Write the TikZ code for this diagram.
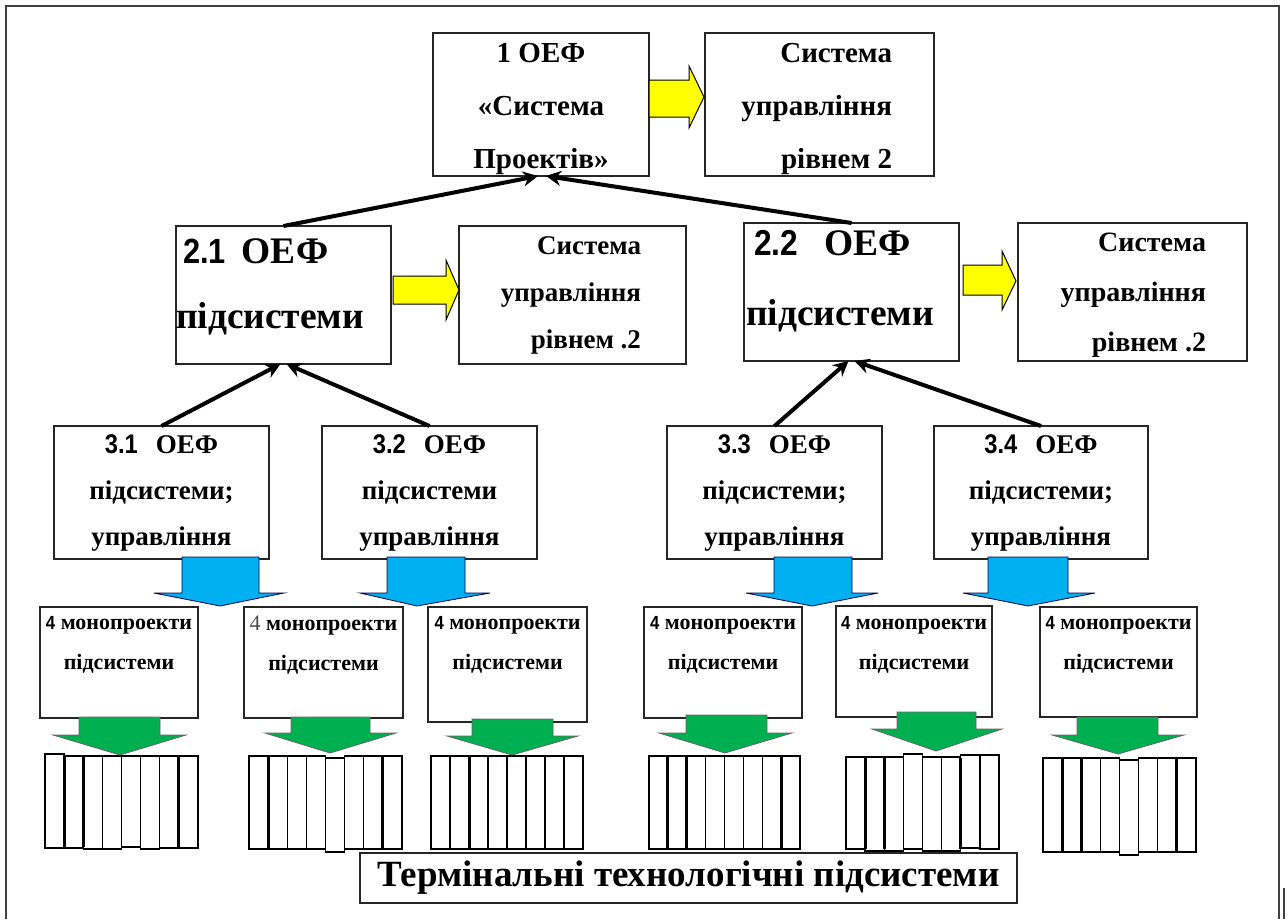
\documentclass[tikz,border=0pt]{standalone}
\usepackage{fontspec}
\setmainfont{Liberation Serif}
\newfontfamily\numf[FakeStretch=0.88]{Liberation Sans}
\usetikzlibrary{arrows.meta}
\definecolor{yel}{RGB}{255,255,0}
\definecolor{blu}{RGB}{0,176,240}
\definecolor{grn}{RGB}{0,176,80}
\tikzset{
 bx/.style={draw=black!85, line width=1.5pt, fill=white, inner sep=0pt, outer sep=0pt, anchor=north west},
 txt/.style={inner sep=0pt, outer sep=0pt},
 link/.style={line width=4pt, -{Stealth[length=15pt,width=15pt]}},
 yarrow/.style={fill=yel, draw=black, line width=1pt, line join=miter},
 barrow/.style={fill=blu, draw=blue!30!black, line width=0.8pt},
 garrow/.style={fill=grn, draw=black!60, line width=0.8pt},
 bar/.style={draw=black, line width=1.3pt, fill=white},
 thk/.style={line width=3pt},
 fb1/.style={font=\bfseries\fontsize{29}{53}\selectfont},
 fsysa/.style={font=\bfseries\fontsize{29}{53}\selectfont},
 fsysb/.style={font=\bfseries\fontsize{27}{47}\selectfont},
 fsysc/.style={font=\bfseries\fontsize{28}{50}\selectfont},
 fb21/.style={font=\bfseries\fontsize{37.5}{65.5}\selectfont},
 fb22/.style={font=\bfseries\fontsize{37.5}{70.5}\selectfont},
 fb3/.style={font=\bfseries\fontsize{27}{46}\selectfont},
 fmono/.style={font=\bfseries\fontsize{22}{40}\selectfont},
 fterm/.style={font=\bfseries\fontsize{37}{40}\selectfont},
}
\newcommand{\numtxt}[2]{{\numf\bfseries\fontsize{#1}{#1}\selectfont #2}}
\begin{document}
\begin{tikzpicture}[x=1pt,y=-1pt]
\useasboundingbox (0,0) rectangle (1288,919);
% outer frame
\draw[line width=2pt, black!75] (6,919) -- (6,6) -- (1279,6) -- (1279,919);
\draw[line width=1.5pt, black!75] (1284,888) -- (1284,919);

% level 1
\node[bx, minimum width=216pt, minimum height=143pt] (b1) at (433,33) {};
\node[txt, align=center, fb1] (tb1) at ([yshift=-4pt]b1.center) {1 ОЕФ\\«Система\\Проектів»};
\node[bx, minimum width=229pt, minimum height=143pt] (c1) at (705,33) {};
\node[txt, anchor=east, align=right, fsysa] (tc1) at ([xshift=-42pt,yshift=-4pt]c1.east) {Система\\управління\\рівнем 2};

% level 2
\node[bx, minimum width=215pt, minimum height=138pt] (b21) at (176,226) {};
\node[txt, anchor=west, align=left, fb21] (tb21) at ([xshift=0pt,yshift=8pt]b21.west) {\hspace*{7pt}\numtxt{35}{2.1}\hspace{16pt}ОЕФ\\підсистеми};
\node[bx, minimum width=227pt, minimum height=138pt] (c21) at (459,226) {};
\node[txt, anchor=east, align=right, fsysb] (tc21) at ([xshift=-45pt]c21.east) {Система\\управління\\рівнем .2};

\node[bx, minimum width=215pt, minimum height=138pt] (b22) at (744,223) {};
\node[txt, anchor=west, align=left, fb22] (tb22) at ([xshift=2pt,yshift=11pt]b22.west) {\hspace*{8pt}\numtxt{36}{2.2}\hspace{26pt}ОЕФ\\підсистеми};
\node[bx, minimum width=229pt, minimum height=138pt] (c22) at (1018,223) {};
\node[txt, anchor=east, align=right, fsysc] (tc22) at ([xshift=-41pt,yshift=-3.5pt]c22.east) {Система\\управління\\рівнем .2};

% level 3
\node[bx, minimum width=215pt, minimum height=133pt, align=center, fb3] (b31) at (54,426) {\numtxt{27}{3.1}\hspace{18pt}ОЕФ\\підсистеми;\\управління};
\node[bx, minimum width=215pt, minimum height=133pt, align=center, fb3] (b32) at (322,426) {\numtxt{27}{3.2}\hspace{18pt}ОЕФ\\підсистеми\\управління};
\node[bx, minimum width=215pt, minimum height=133pt, align=center, fb3] (b33) at (667,426) {\numtxt{27}{3.3}\hspace{18pt}ОЕФ\\підсистеми;\\управління};
\node[bx, minimum width=214pt, minimum height=133pt, align=center, fb3] (b34) at (934,426) {\numtxt{27}{3.4}\hspace{18pt}ОЕФ\\підсистеми;\\управління};

% connectors
\draw[link] (b21.north) -- ([xshift=-3pt]b1.south);
\draw[link] (b22.north) -- ([xshift=5pt]b1.south);
\draw[link] (b31.north) -- ([xshift=-3pt]b21.south);
\draw[link] (b32.north) -- ([xshift=3pt]b21.south);
\draw[link] (b33.north) -- ([xshift=-3pt]b22.south);
\draw[link] (b34.north) -- ([xshift=3pt]b22.south);

% yellow block arrows
\draw[yarrow] (649,80) -- (689,80) -- (689,66) -- (704,97) -- (689,128) -- (689,117) -- (649,117) -- cycle;
\draw[yarrow] (393,276) -- (446,276) -- (446,260) -- (459,290) -- (446,320) -- (446,304) -- (393,304) -- cycle;
\draw[yarrow] (963,265) -- (1002,265) -- (1002,251) -- (1016,281) -- (1002,310) -- (1002,295) -- (963,295) -- cycle;

% level 4 boxes
\node[bx, minimum width=158pt, minimum height=111pt] (m1) at (40,607) {};
\node[bx, minimum width=159pt, minimum height=111pt] (m2) at (244,607) {};
\node[bx, minimum width=159pt, minimum height=115pt] (m3) at (428,607) {};
\node[bx, minimum width=158pt, minimum height=111pt] (m4) at (644,607) {};
\node[bx, minimum width=156pt, minimum height=111pt] (m5) at (836,606) {};
\node[bx, minimum width=157pt, minimum height=110pt] (m6) at (1040,607) {};
\node[txt, anchor=north, align=center, fmono] (tm1) at ([yshift=-9pt]m1.north) {\numtxt{19}{4} монопроекти\\підсистеми};
\node[txt, anchor=north, align=center, fmono] (tm2) at ([yshift=-9pt]m2.north) {{\mdseries\color{black!70}4} монопроекти\\підсистеми};
\node[txt, anchor=north, align=center, fmono] (tm3) at ([yshift=-9pt]m3.north) {\numtxt{19}{4} монопроекти\\підсистеми};
\node[txt, anchor=north, align=center, fmono] (tm4) at ([yshift=-9pt]m4.north) {\numtxt{19}{4} монопроекти\\підсистеми};
\node[txt, anchor=north, align=center, fmono] (tm5) at ([yshift=-10pt]m5.north) {\numtxt{19}{4} монопроекти\\підсистеми};
\node[txt, anchor=north, align=center, fmono] (tm6) at ([yshift=-9pt]m6.north) {\numtxt{19}{4} монопроекти\\підсистеми};

% blue block arrows
\draw[barrow] (182,557) -- (182,593) -- (154,593) -- (220,606) -- (284,593) -- (259,593) -- (259,557) -- cycle;
\draw[barrow] (387,557) -- (387,593) -- (360,593) -- (417,606) -- (490,593) -- (465,593) -- (465,557) -- cycle;
\draw[barrow] (774,557) -- (774,593) -- (746,593) -- (812,606) -- (878,593) -- (852,593) -- (852,557) -- cycle;
\draw[barrow] (988,557) -- (988,593) -- (963,593) -- (1028,606) -- (1095,593) -- (1068,593) -- (1068,557) -- cycle;

% terminal bars
\foreach \X/\R/\T/\B/\var/\thick in {
 45/198/756/848/{0/-2/0,1/0/0,2/0/1,3/0/1,4/0/-1,5/0/1,6/0/0,7/0/0}/{1,2,7},
 249/402/756/849/{0/0/0,1/0/0,2/0/0,3/0/0,4/2/3,5/0/0,6/0/0,7/0/0}/{1,7},
 431/583/756/849/{0/0/0,1/0/0,2/0/0,3/0/0,4/0/0,5/0/0,6/0/0,7/0/0}/{2},
 649/800/756/849/{0/0/0,1/0/0,2/0/0,3/0/0,4/0/0,5/0/0,6/0/0,7/0/0}/{1,2,7},
 846/999/757/850/{0/0/-1,1/0/1,2/0/1,3/-3/-1,4/0/1,5/0/1,6/-2/-2,7/-2/-1}/{1,2,6},
 1043/1196/758/852/{0/0/0,1/0/0,2/0/0,3/0/0,4/2/3,5/0/0,6/0/0,7/0/0}/{1,2,7}} {
  \pgfmathsetmacro{\w}{(\R-\X)/8}
  \foreach \i/\dt/\db in \var {
    \draw[bar] ({\X+\i*\w},{\T+\dt}) rectangle ({\X+(\i+1)*\w},{\B+\db});
  }
  \foreach \k in \thick {
    \draw[thk] ({\X+\k*\w},{\T+1}) -- ({\X+\k*\w},{\B-1});
  }
}

% green block arrows
\draw[garrow] (79,717) -- (79,735) -- (53,735) -- (120,755) -- (186,735) -- (160,735) -- (160,717) -- cycle;
\draw[garrow] (291,717) -- (291,733) -- (265,733) -- (330,753) -- (396,733) -- (370,733) -- (370,717) -- cycle;
\draw[garrow] (472,719) -- (472,736) -- (447,736) -- (512,755) -- (578,736) -- (553,736) -- (553,719) -- cycle;
\draw[garrow] (686,715) -- (686,733) -- (659,733) -- (725,753) -- (792,733) -- (767,733) -- (767,715) -- cycle;
\draw[garrow] (897,712) -- (897,729) -- (872,729) -- (936,751) -- (1002,729) -- (976,729) -- (976,712) -- cycle;
\draw[garrow] (1077,717) -- (1077,735) -- (1052,735) -- (1118,754) -- (1184,735) -- (1158,735) -- (1158,717) -- cycle;

% bottom label
\node[bx, minimum width=657pt, minimum height=50pt, fterm] (term) at (360,853) {Термінальні технологічні підсистеми};
\end{tikzpicture}
\end{document}
